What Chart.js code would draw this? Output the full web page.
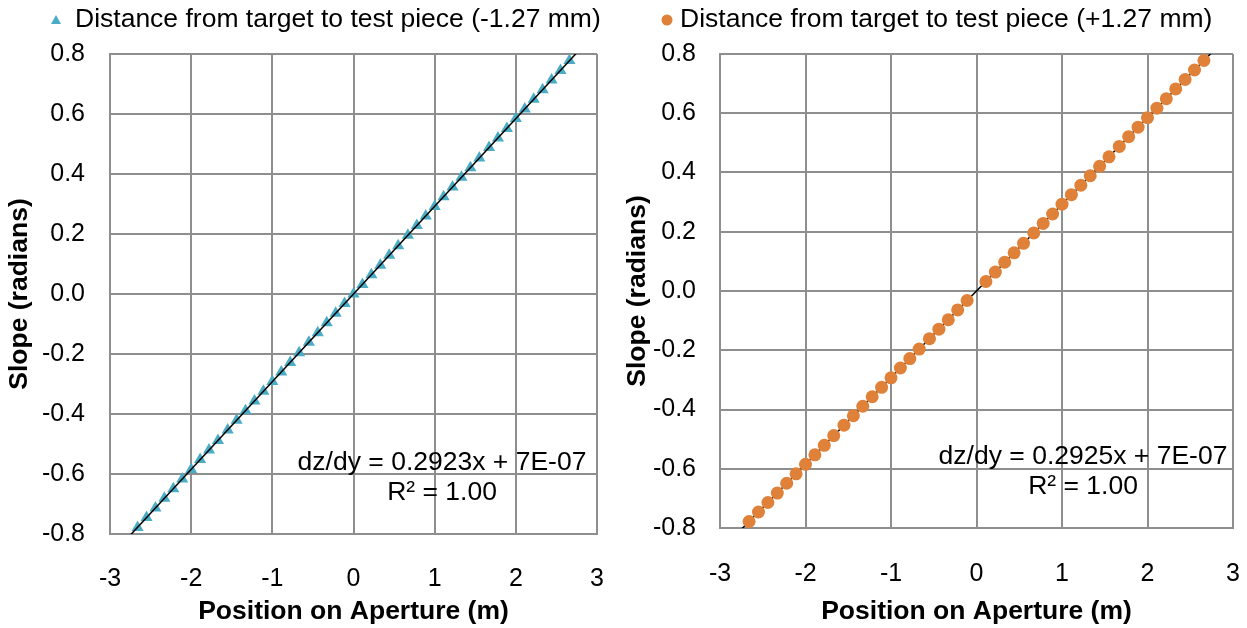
<!DOCTYPE html>
<html>
<head>
<meta charset="utf-8">
<script src="https://cdn.jsdelivr.net/npm/chart.js@4"></script>
<style>
  html, body { margin: 0; padding: 0; background: #fff; }
  #wrap { position: relative; width: 1247px; height: 628px; }
  .box { position: absolute; top: 0; height: 628px; }
  #left { left: 0; width: 620px; }
  #right { left: 620px; width: 627px; }
</style>
</head>
<body>
<div id="wrap">
  <div class="box" id="left"><canvas id="chartLeft"></canvas></div>
  <div class="box" id="right"><canvas id="chartRight"></canvas></div>
</div>
<script>
// positions on the aperture (m)
const positions = [-2.66, -2.55, -2.44, -2.33, -2.22, -2.11, -2.00, -1.89, -1.78, -1.67,
  -1.55, -1.44, -1.33, -1.22, -1.11, -1.00, -0.89, -0.78, -0.67, -0.55,
  -0.44, -0.33, -0.22, -0.11, 0.00, 0.11, 0.22, 0.33, 0.44, 0.55,
  0.67, 0.78, 0.89, 1.00, 1.11, 1.22, 1.33, 1.44, 1.55, 1.67,
  1.78, 1.89, 2.00, 2.11, 2.22, 2.33, 2.44, 2.55, 2.66];

// slope (radians), -1.27 mm
const slopeMinus = [-0.778, -0.745, -0.713, -0.681, -0.649, -0.617, -0.585, -0.552, -0.520, -0.488,
  -0.453, -0.421, -0.389, -0.357, -0.324, -0.292, -0.260, -0.228, -0.196, -0.161,
  -0.129, -0.096, -0.064, -0.032, 0.000, 0.032, 0.064, 0.096, 0.129, 0.161,
  0.196, 0.228, 0.260, 0.292, 0.324, 0.357, 0.389, 0.421, 0.453, 0.488,
  0.520, 0.552, 0.585, 0.617, 0.649, 0.681, 0.713, 0.745, 0.778];

// slope (radians), +1.27 mm (no point at the centre)
const slopePlus = [-0.778, -0.746, -0.714, -0.682, -0.649, -0.617, -0.585, -0.553, -0.521, -0.488,
  -0.453, -0.421, -0.389, -0.357, -0.325, -0.293, -0.260, -0.228, -0.196, -0.161,
  -0.129, -0.097, -0.064, -0.032, null, 0.032, 0.064, 0.097, 0.129, 0.161,
  0.196, 0.228, 0.260, 0.293, 0.325, 0.357, 0.389, 0.421, 0.453, 0.488,
  0.521, 0.553, 0.585, 0.617, 0.649, 0.682, 0.714, 0.746, 0.778];

// linear fits shown on the charts
const fitMinus = { slope: 0.2923, intercept: 7e-7 };
const fitPlus = { slope: 0.2925, intercept: 7e-7 };
const fitRange = [-2.9, 2.9];

const xTicks = [-3, -2, -1, 0, 1, 2, 3];
const yTicks = [-0.8, -0.6, -0.4, -0.2, 0.0, 0.2, 0.4, 0.6, 0.8];

const FONT = "'Liberation Sans', Arial, sans-serif";
const GRID = '#8e8e8e';

function points(xs, ys) {
  const out = [];
  xs.forEach((x, i) => { if (ys[i] !== null) out.push({ x: x, y: ys[i] }); });
  return out;
}

function fitPoints(fit) {
  return fitRange.map(x => ({ x: x, y: fit.slope * x + fit.intercept }));
}

// legend and trendline label drawn on the canvas
const annotate = {
  id: 'annotate',
  afterDraw(chart, args, o) {
    const ctx = chart.ctx;
    ctx.save();
    ctx.fillStyle = o.color;
    ctx.beginPath();
    if (o.marker === 'triangle') {
      ctx.moveTo(o.mx, o.my - 5);
      ctx.lineTo(o.mx + 5, o.my + 4);
      ctx.lineTo(o.mx - 5, o.my + 4);
      ctx.closePath();
    } else {
      ctx.arc(o.mx, o.my, 5.5, 0, Math.PI * 2);
    }
    ctx.fill();
    ctx.fillStyle = '#000';
    ctx.font = '26.5px ' + FONT;
    ctx.textBaseline = 'middle';
    ctx.textAlign = 'left';
    ctx.fillText(o.legend, o.tx, o.my);
    ctx.textAlign = 'center';
    ctx.fillText(o.eq1, o.ex, o.ey);
    ctx.fillText(o.eq2, o.ex, o.ey + 30);
    ctx.restore();
  }
};

function makeChart(id, cfg) {
  const ctx = document.getElementById(id).getContext('2d');
  const markerDs = {
    type: 'scatter',
    data: points(positions, cfg.values),
    pointStyle: cfg.marker,
    pointRadius: cfg.marker === 'triangle' ? 7 : 6.5,
    backgroundColor: cfg.color,
    borderColor: cfg.color,
    borderWidth: 0,
    order: cfg.lineOnTop ? 2 : 1
  };
  const lineDs = {
    type: 'line',
    data: fitPoints(cfg.fit),
    borderColor: '#000',
    borderWidth: 1.5,
    pointRadius: 0,
    fill: false,
    clip: 0,
    order: cfg.lineOnTop ? 1 : 2
  };
  return new Chart(ctx, {
    type: 'scatter',
    data: { datasets: [markerDs, lineDs] },
    plugins: [annotate],
    options: {
      responsive: true,
      maintainAspectRatio: false,
      animation: false,
      layout: { padding: { top: 54, right: cfg.padRight, bottom: 0, left: 0 } },
      plugins: {
        legend: { display: false },
        tooltip: { enabled: false },
        annotate: cfg.note
      },
      scales: {
        x: {
          type: 'linear',
          min: -3, max: 3,
          afterFit: s => { s.height = cfg.xHeight; s.paddingLeft = 0; s.paddingRight = 0; },
          afterBuildTicks: s => { s.ticks = xTicks.map(v => ({ value: v })); },
          grid: { color: GRID, lineWidth: 2, drawTicks: false },
          border: { color: GRID, width: 2 },
          ticks: { color: '#000', font: { family: FONT, size: 25 }, padding: cfg.xTickPad, maxRotation: 0 },
          title: { display: true, text: 'Position on Aperture (m)', color: '#000',
            font: { family: FONT, size: 26.5, weight: 'bold' }, padding: { top: 0, bottom: 0 } }
        },
        y: {
          type: 'linear',
          min: -0.8, max: 0.8,
          afterFit: s => { s.width = cfg.yWidth; s.paddingTop = 0; s.paddingBottom = 0; },
          afterBuildTicks: s => { s.ticks = yTicks.map(v => ({ value: v })); },
          grid: { color: GRID, lineWidth: 2, drawTicks: false },
          border: { color: GRID, width: 2 },
          ticks: { color: '#000', font: { family: FONT, size: 25 }, padding: cfg.yTickPad,
            callback: v => v.toFixed(1) },
          title: { display: true, text: 'Slope (radians)', color: '#000',
            font: { family: FONT, size: 26.5, weight: 'bold' }, padding: { top: cfg.yTitlePad, bottom: 0 } }
        }
      }
    }
  });
}

makeChart('chartLeft', {
  values: slopeMinus, fit: fitMinus, marker: 'triangle', color: '#4bacc6', lineOnTop: true,
  padRight: 23, xHeight: 94, xTickPad: 30, yWidth: 110, yTickPad: 25, yTitlePad: 4,
  note: { marker: 'triangle', color: '#4bacc6', mx: 56, my: 20, tx: 75,
    legend: 'Distance from target to test piece (-1.27 mm)',
    eq1: 'dz/dy = 0.2923x + 7E-07', eq2: 'R\u00b2 = 1.00', ex: 442, ey: 463 }
});

makeChart('chartRight', {
  values: slopePlus, fit: fitPlus, marker: 'circle', color: '#df8139', lineOnTop: false,
  padRight: 14, xHeight: 100, xTickPad: 31, yWidth: 100, yTickPad: 24, yTitlePad: 2,
  note: { marker: 'circle', color: '#df8139', mx: 47, my: 20, tx: 60,
    legend: 'Distance from target to test piece (+1.27 mm)',
    eq1: 'dz/dy = 0.2925x + 7E-07', eq2: 'R\u00b2 = 1.00', ex: 463, ey: 457 }
});
</script>
</body>
</html>
